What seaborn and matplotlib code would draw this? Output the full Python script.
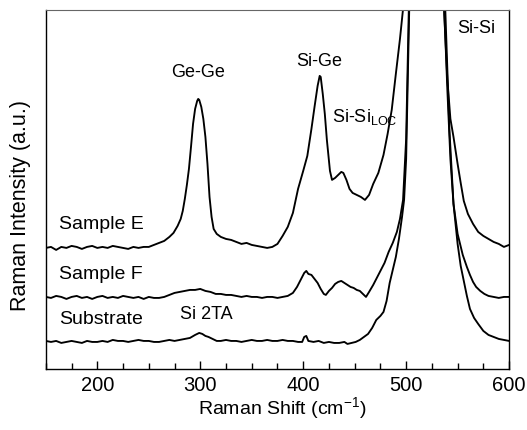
import matplotlib
matplotlib.use("Agg")
import matplotlib.pyplot as plt
import seaborn as sns
from matplotlib.ticker import MultipleLocator

# spectra (intensity in arbitrary units, offset per trace)
sample_e_x = [150, 155, 160, 165, 170, 175, 180, 185, 190, 195, 200, 205, 210, 215, 220,
              225, 230, 235, 240, 245, 250, 255, 260, 265, 270, 274, 278, 281, 283, 285,
              287, 289, 291, 293, 295, 297, 298, 299, 301, 303, 305, 307, 309, 311, 313,
              316, 320, 325, 330, 335, 340, 345, 350, 355, 360, 365, 370, 375, 380, 385,
              390, 395, 400, 404, 408, 411, 414, 416, 417, 419, 421, 423, 426, 428, 431,
              434, 437, 439, 442, 445, 448, 452, 456, 460, 464, 468, 473, 478, 482, 486,
              490, 494, 497, 500, 505, 510, 515, 520, 525, 530, 534, 537, 540, 543, 546,
              550, 553, 556, 560, 565, 570, 575, 580, 585, 590, 595, 600]
sample_e_y = [121, 122, 119, 122, 121, 123, 122, 120, 122, 123, 121, 122, 121, 123, 122,
              121, 120, 122, 121, 122, 122, 124, 126, 128, 132, 136, 143, 150, 158, 170,
              184, 200, 222, 245, 260, 268, 270, 269, 262, 250, 232, 205, 172, 152, 140,
              135, 132, 130, 129, 127, 125, 126, 124, 123, 122, 121, 122, 125, 133, 142,
              156, 180, 198, 213, 240, 262, 283, 293, 292, 275, 255, 229, 198, 189, 191,
              194, 197, 196, 189, 180, 176, 174, 172, 169, 174, 185, 196, 214, 235, 259,
              295, 330, 360, 420, 600, 1000, 1600, 2000, 1600, 1000, 500, 355, 290, 250, 232,
              205, 186, 168, 155, 145, 137, 133, 130, 127, 125, 122, 124]

sample_f_x = [150, 155, 160, 165, 170, 175, 180, 185, 190, 195, 200, 205, 210, 215, 220,
              225, 230, 235, 240, 245, 250, 255, 260, 265, 270, 275, 280, 285, 290, 295,
              300, 305, 310, 315, 320, 325, 330, 335, 340, 345, 350, 355, 360, 365, 370,
              375, 380, 385, 390, 394, 398, 401, 403, 405, 408, 411, 414, 417, 420, 422,
              425, 428, 431, 434, 437, 440, 443, 446, 449, 452, 455, 458, 461, 464, 468,
              471, 475, 479, 483, 487, 491, 494, 497, 500, 503, 507, 512, 518, 524, 530,
              535, 537, 540, 543, 546, 550, 555, 559, 562, 565, 568, 572, 576, 580, 585,
              590, 595, 600]
sample_f_y = [72, 71, 73, 72, 70, 72, 73, 71, 72, 70, 72, 73, 71, 72, 71,
              73, 72, 71, 72, 70, 72, 71, 71, 72, 74, 76, 77, 78, 79, 79,
              80, 78, 77, 75, 75, 74, 74, 73, 72, 73, 72, 72, 71, 72, 72,
              71, 72, 73, 76, 82, 90, 96, 98, 95, 94, 90, 86, 80, 75, 74,
              78, 81, 85, 87, 88, 86, 84, 82, 81, 79, 78, 75, 72, 77, 84,
              90, 98, 106, 117, 126, 137, 150, 169, 230, 380, 800, 1500, 2000, 1600, 900,
              450, 360, 280, 210, 165, 135, 114, 102, 94, 87, 82, 78, 75, 73, 72,
              71, 72, 72]

substrate_x = [150, 155, 160, 165, 170, 175, 180, 185, 190, 195, 200, 205, 210, 215, 220,
               225, 230, 235, 240, 245, 250, 255, 260, 265, 270, 275, 280, 285, 290, 295,
               299, 302, 305, 308, 312, 316, 320, 325, 330, 335, 340, 345, 350, 355, 360,
               365, 370, 375, 380, 385, 390, 395, 399, 401, 403, 405, 410, 415, 420, 425,
               430, 435, 440, 443, 447, 451, 455, 459, 463, 467, 471, 475, 478, 481, 484,
               487, 490, 493, 496, 498, 500, 503, 507, 512, 518, 524, 530, 535, 538, 542,
               546, 550, 553, 556, 559, 562, 566, 570, 575, 580, 585, 590, 595, 600]
substrate_y = [28, 27, 28, 26, 27, 28, 27, 26, 28, 27, 27, 28, 27, 29, 28,
               28, 27, 28, 29, 28, 28, 27, 27, 28, 29, 28, 29, 30, 31, 34,
               36, 35, 33, 32, 30, 28, 28, 29, 28, 28, 27, 28, 29, 28, 28,
               29, 28, 28, 29, 28, 28, 27, 27, 32, 33, 28, 27, 28, 26, 27,
               26, 26, 27, 25, 26, 27, 29, 32, 35, 41, 49, 53, 57, 68, 86,
               99, 112, 130, 152, 169, 210, 360, 800, 1500, 2000, 1600, 900, 480, 360, 240,
               165, 125, 103, 88, 73, 60, 51, 45, 38, 34, 32, 30, 29, 28]

trace_labels = ["Sample E", "Sample F", "Substrate"]
label_y = [144, 94, 49]
peak_labels = ["Ge-Ge", "Si-Ge", "Si-Si", "Si 2TA"]
peak_x = [298, 416, 568, 306]
peak_y = [296, 307, 340, 54]

sns.set_style("ticks")
plt.rcParams["font.family"] = ["Liberation Sans", "DejaVu Sans"]
plt.rcParams["text.color"] = "black"
plt.rcParams["axes.labelcolor"] = "black"

fig, ax = plt.subplots(figsize=(5.27, 4.30), dpi=100)
fig.subplots_adjust(left=0.087, right=0.966, bottom=0.142, top=0.977)

for xs, ys in [(sample_e_x, sample_e_y), (sample_f_x, sample_f_y), (substrate_x, substrate_y)]:
    sns.lineplot(x=xs, y=ys, ax=ax, color="black", linewidth=1.35, estimator=None)

ax.set_xlim(150, 600)
ax.set_ylim(0, 359)
ax.set_yticks([])
ax.xaxis.set_major_locator(MultipleLocator(100))
ax.xaxis.set_minor_locator(MultipleLocator(25))
ax.tick_params(axis="x", which="both", direction="in", top=False, labelsize=14.5,
               width=1, color="black", labelcolor="black", pad=5)
ax.tick_params(axis="x", which="major", length=6)
ax.tick_params(axis="x", which="minor", length=4)
for side in ["left", "bottom", "right"]:
    ax.spines[side].set_visible(True)
    ax.spines[side].set_color("black")
    ax.spines[side].set_linewidth(1.0)
ax.spines["top"].set_visible(True)
ax.spines["top"].set_color("#666666")
ax.spines["top"].set_linewidth(0.8)

ax.set_xlabel("Raman Shift (cm$^{\\mathregular{-1}}$)", fontsize=14)
ax.xaxis.set_label_coords(0.51, -0.075)
ax.set_ylabel("Raman Intensity (a.u.)", fontsize=15.5)
ax.yaxis.set_label_coords(-0.031, 0.455)

for name, y in zip(trace_labels, label_y):
    ax.text(163, y, name, fontsize=14, ha="left", va="center")
for name, x, y in zip(peak_labels, peak_x, peak_y):
    ax.text(x, y, name, fontsize=13, ha="center", va="center")
ax.text(428, 252, "Si-Si$_{\\mathregular{LOC}}$", fontsize=13, ha="left", va="center")

plt.savefig("out.png", dpi=100)
plt.close()
